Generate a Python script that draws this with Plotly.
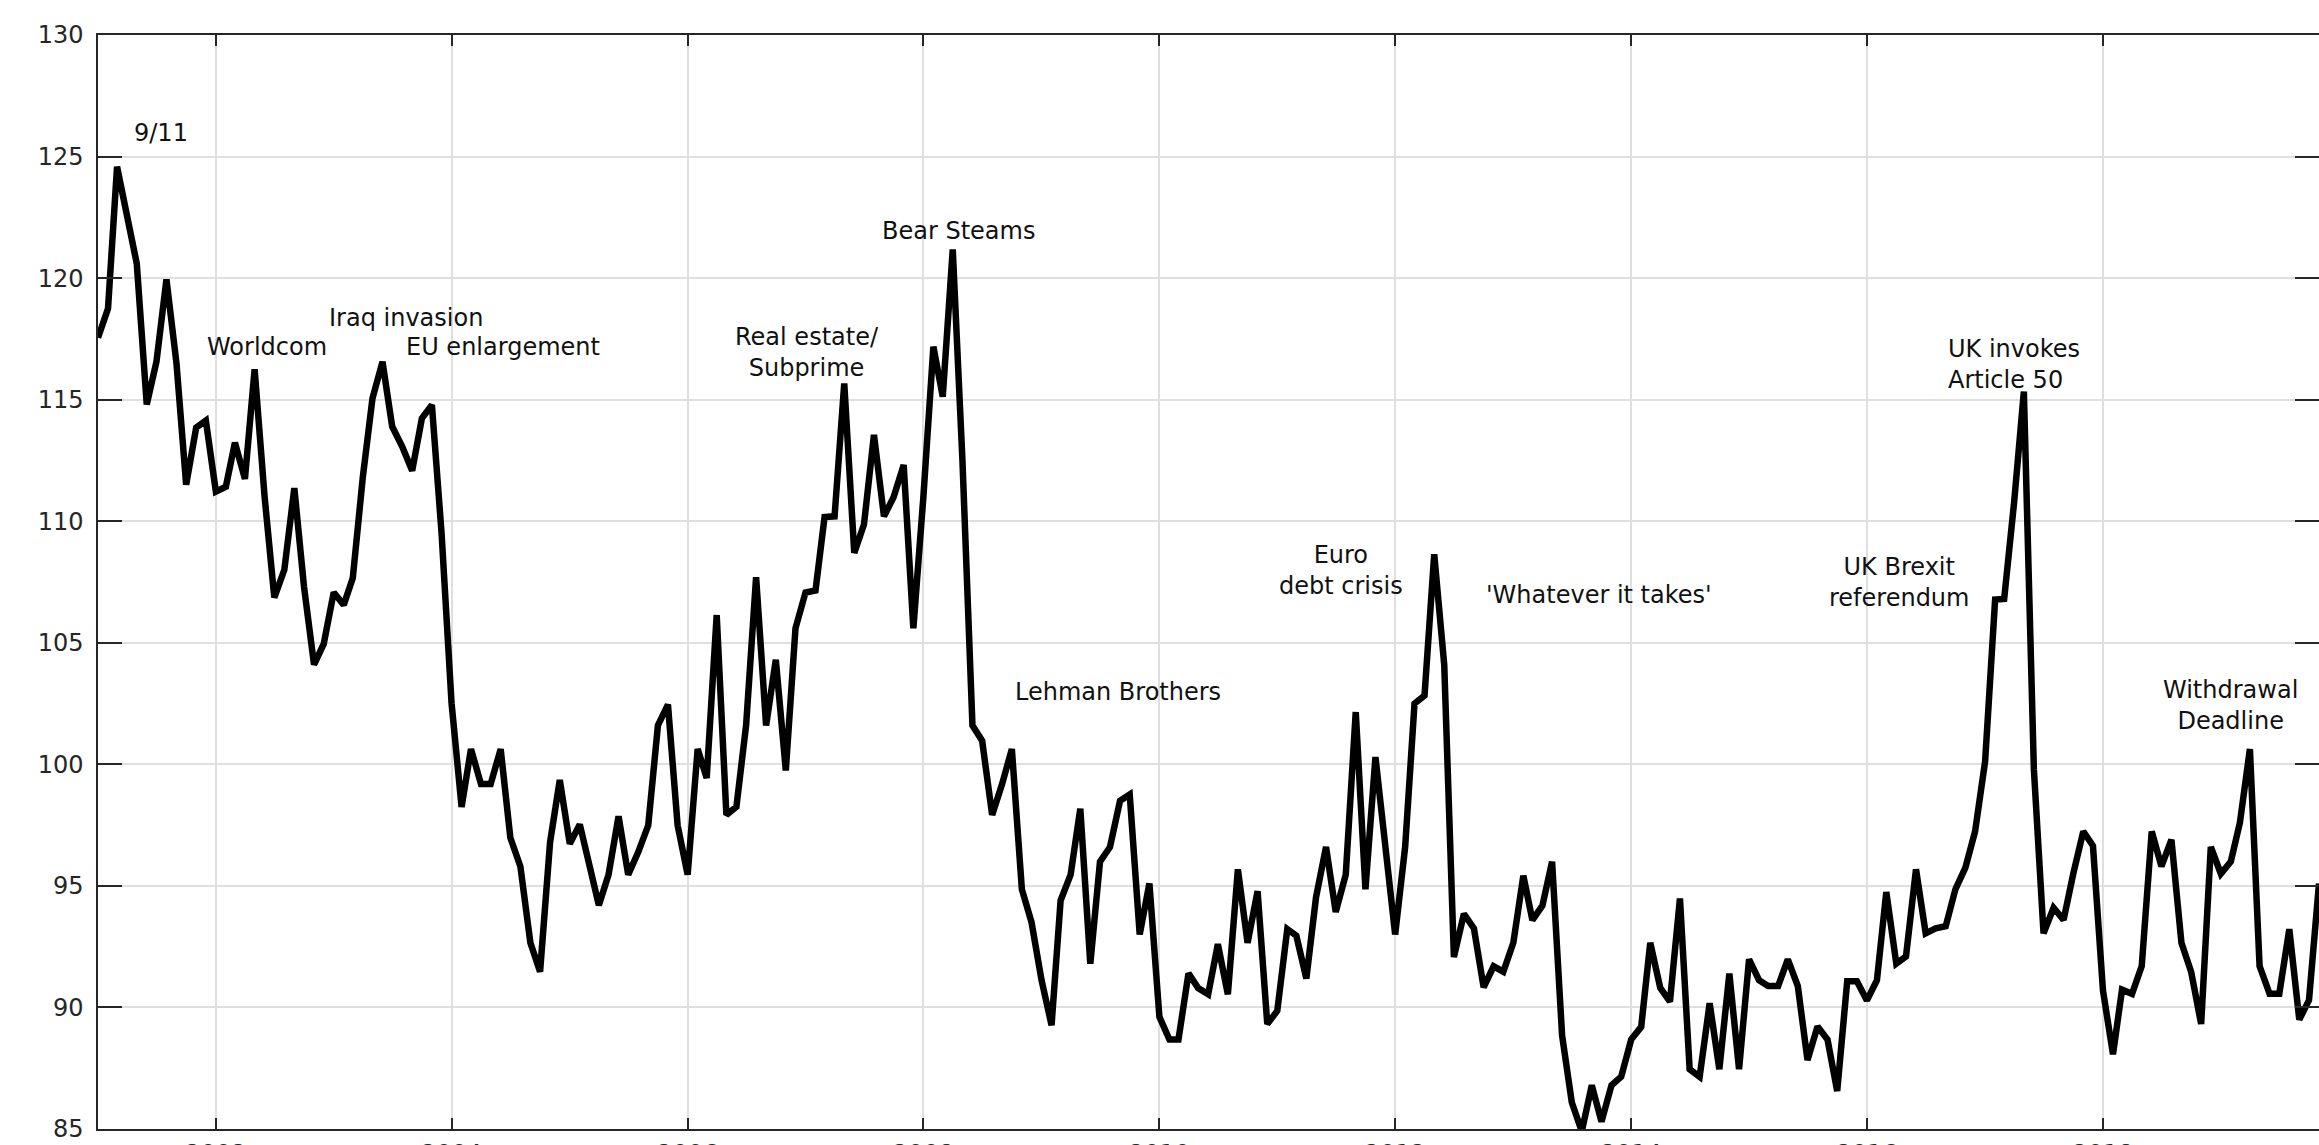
import datetime as dt
import plotly.graph_objects as go

# Monthly index values (Jan 2001 .. Nov 2019)
v2001 = [117.55, 118.75, 124.58, 122.6, 120.6, 114.8, 116.56, 119.95, 116.5, 111.5, 113.85, 114.14]
v2002 = [111.22, 111.42, 113.23, 111.74, 116.25, 111.0, 106.86, 108.0, 111.36, 107.3, 104.1, 104.95]
v2003 = [107.07, 106.56, 107.66, 111.8, 115.05, 116.56, 113.9, 113.07, 112.08, 114.23, 114.78, 109.5]
v2004 = [102.5, 98.25, 100.63, 99.19, 99.19, 100.63, 96.98, 95.8, 92.66, 91.47, 96.8, 99.36]
v2005 = [96.73, 97.53, 95.8, 94.2, 95.46, 97.86, 95.46, 96.39, 97.49, 101.6, 102.46, 97.49]
v2006 = [95.46, 100.63, 99.44, 106.14, 97.92, 98.25, 101.6, 107.7, 101.6, 104.3, 99.75, 105.6]
v2007 = [107.07, 107.15, 110.17, 110.2, 115.67, 108.7, 109.86, 113.55, 110.2, 111.0, 112.31, 105.6]
v2008 = [111.0, 117.18, 115.12, 121.18, 112.5, 101.6, 100.97, 97.92, 99.2, 100.63, 94.86, 93.5]
v2009 = [91.12, 89.27, 94.4, 95.46, 98.17, 91.8, 96.0, 96.6, 98.5, 98.76, 93.0, 95.1]
v2010 = [89.61, 88.68, 88.68, 91.4, 90.8, 90.54, 92.6, 90.54, 95.68, 92.66, 94.78, 89.32]
v2011 = [89.86, 93.22, 92.95, 91.19, 94.53, 96.6, 93.93, 95.46, 102.15, 94.86, 100.3, 96.6]
v2012 = [93.0, 96.6, 102.5, 102.83, 108.64, 104.1, 92.07, 93.85, 93.25, 90.83, 91.69, 91.47]
v2013 = [92.66, 95.42, 93.59, 94.19, 96.0, 88.85, 86.1, 84.9, 86.8, 85.3, 86.8, 87.15]
v2014 = [88.68, 89.2, 92.66, 90.8, 90.24, 94.48, 87.46, 87.15, 90.17, 87.46, 91.39, 87.46]
v2015 = [91.98, 91.12, 90.88, 90.88, 91.98, 90.88, 87.83, 89.22, 88.68, 86.56, 91.08, 91.08]
v2016 = [90.29, 91.12, 94.75, 91.8, 92.1, 95.68, 93.05, 93.25, 93.34, 94.86, 95.75, 97.24]
v2017 = [100.12, 106.78, 106.8, 110.8, 115.33, 99.8, 93.05, 94.1, 93.6, 95.5, 97.24, 96.65]
v2018 = [90.7, 88.07, 90.73, 90.56, 91.7, 97.24, 95.8, 96.9, 92.66, 91.47, 89.32, 96.6]
v2019 = [95.5, 96.0, 97.6, 100.63, 91.7, 90.56, 90.56, 93.22, 89.5, 90.3, 95.1]

yearly = [v2001, v2002, v2003, v2004, v2005, v2006, v2007, v2008, v2009, v2010,
          v2011, v2012, v2013, v2014, v2015, v2016, v2017, v2018, v2019]

dates, values = [], []
for i, vals in enumerate(yearly):
    for j, v in enumerate(vals):
        dates.append(dt.date(2001 + i, j + 1, 1).isoformat())
        values.append(v)

tick_years = [2002, 2004, 2006, 2008, 2010, 2012, 2014, 2016, 2018]
y_ticks = [85, 90, 95, 100, 105, 110, 115, 120, 125, 130]

# Event labels
event_text = ["9/11", "Worldcom", "Iraq invasion", "EU enlargement",
              "Real estate/<br>Subprime", "Bear Steams", "Lehman Brothers",
              "Euro<br>debt crisis", "'Whatever it takes'", "UK Brexit<br>referendum",
              "UK invokes<br>Article 50", "Withdrawal<br>Deadline"]
event_x = ["2001-07-14", "2002-06-08", "2003-08-12", "2004-06-08",
           "2007-01-07", "2008-04-18", "2009-08-26",
           "2011-07-16", "2013-09-22", "2016-04-10",
           "2016-09-03", "2019-02-01"]
event_y = [125.95, 117.17, 118.35, 117.18, 116.94, 121.95, 102.97,
           107.99, 106.96, 107.46, 116.43, 102.44]
event_anchor = ["center"] * 10 + ["left", "center"]

FONT = "DejaVu Sans"
AXC = "#262626"

fig = go.Figure()
fig.add_trace(go.Scatter(x=dates, y=values, mode="lines",
                         line=dict(color="black", width=6.5), showlegend=False,
                         hoverinfo="x+y"))

for t, x, y, a in zip(event_text, event_x, event_y, event_anchor):
    fig.add_annotation(x=x, y=y, text=t, showarrow=False, xanchor=a, yanchor="middle",
                       align=a,
                       font=dict(family=FONT, size=24, color="#111111"))

fig.update_layout(
    width=2319, height=1145,
    margin=dict(l=98, r=0, t=35, b=16, autoexpand=False),
    paper_bgcolor="white", plot_bgcolor="white",
    font=dict(family=FONT, size=24, color=AXC),
    xaxis=dict(type="date", range=["2001-01-01", "2019-11-01"],
               tickvals=[f"{y}-01-01" for y in tick_years],
               ticktext=[str(y) for y in tick_years],
               ticks="inside", ticklen=11, tickwidth=1.5, tickcolor=AXC,
               showline=True, linecolor=AXC, linewidth=1.5, mirror="ticks",
               showgrid=True, gridcolor="#dfdfdf", gridwidth=1.5, zeroline=False,
               automargin=False, ticklabelstandoff=2,
               tickfont=dict(family=FONT, size=24, color=AXC)),
    yaxis=dict(range=[85, 130], tickvals=y_ticks, ticktext=[str(v) for v in y_ticks],
               ticks="inside", ticklen=24, tickwidth=1.5, tickcolor=AXC,
               showline=True, linecolor=AXC, linewidth=1.5, mirror="ticks",
               showgrid=True, gridcolor="#dfdfdf", gridwidth=1.5, zeroline=False,
               automargin=False, ticklabelstandoff=8,
               tickfont=dict(family=FONT, size=24, color=AXC)),
)

fig.write_html(
    "out.html",
    config={"displayModeBar": False},
    post_script="document.body.style.margin='0';document.body.style.overflow='hidden';",
)
